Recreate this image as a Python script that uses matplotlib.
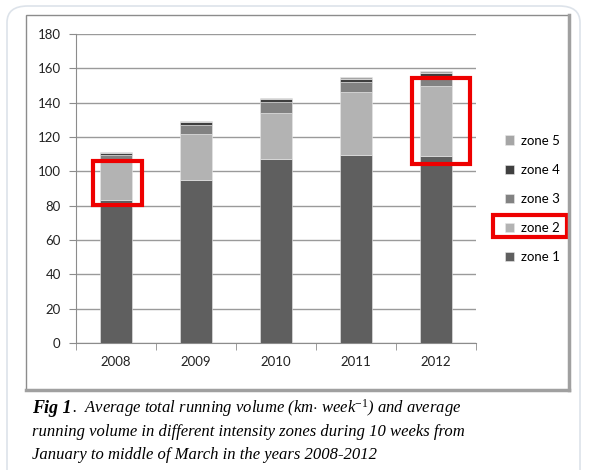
import matplotlib.pyplot as plt
from matplotlib.patches import Rectangle, FancyBboxPatch
import numpy as np

years = ['2008', '2009', '2010', '2011', '2012']
zone1 = [83.4, 95.0, 107.0, 109.5, 108.8]
zone2 = [23.6, 27.0, 27.0, 36.5, 41.0]
zone3 = [2.5, 5.0, 6.5, 6.0, 5.2]
zone4 = [1.0, 1.5, 1.5, 1.5, 2.0]
zone5 = [0.6, 1.0, 0.5, 1.2, 1.6]
zone_labels = ['zone 1', 'zone 2', 'zone 3', 'zone 4', 'zone 5']
zone_colors = ['#5f5f5f', '#b3b3b3', '#828282', '#3f3f3f', '#a6a6a6']
y_ticks = [0, 20, 40, 60, 80, 100, 120, 140, 160, 180]

caption_bold = 'Fig 1'
caption_rest = [
    '.  Average total running volume (km$\\cdot$ week$^{-1}$) and average',
    'running volume in different intensity zones during 10 weeks from',
    'January to middle of March in the years 2008-2012',
]

plt.rcParams['mathtext.fontset'] = 'custom'
plt.rcParams['mathtext.rm'] = 'Liberation Serif'
plt.rcParams['mathtext.it'] = 'Liberation Serif:italic'

W, H = 594, 470
fig = plt.figure(figsize=(W / 100, H / 100), dpi=100)
fig.patch.set_facecolor('white')

# outer rounded frame
fig.patches.append(FancyBboxPatch((7 / W, -0.1), 573 / W, 1.1 - 6 / H,
                                  boxstyle='round,pad=0,rounding_size=0.035',
                                  transform=fig.transFigure, fill=False,
                                  edgecolor='#dde3ea', lw=1.2))
# chart box with darker right/bottom edge
fig.patches.append(Rectangle((26 / W, 1 - 390 / H), 543 / W, 375 / H,
                             transform=fig.transFigure, fill=False,
                             edgecolor='#8c8c8c', lw=1.0))
fig.lines.append(plt.Line2D([569 / W, 569 / W], [1 - 390 / H, 1 - 15 / H],
                            transform=fig.transFigure, color='#a0a0a0', lw=2.5))
fig.lines.append(plt.Line2D([26 / W, 569 / W], [1 - 390 / H, 1 - 390 / H],
                            transform=fig.transFigure, color='#a0a0a0', lw=2.5))

ax = fig.add_axes([76 / W, 1 - 343 / H, 400 / W, 309 / H])
x = np.arange(len(years))
series = [zone1, zone2, zone3, zone4, zone5]
bottom = np.zeros(len(years))
bars = []
for vals, lab, col in zip(series, zone_labels, zone_colors):
    b = ax.bar(x, vals, 0.41, bottom=bottom, color=col, label=lab,
               edgecolor='#e8e8e8', linewidth=0.4, zorder=3)
    bars.append(b)
    bottom += np.array(vals)

ax.set_xlim(-0.5, len(years) - 0.5)
ax.set_ylim(0, 180)
ax.set_yticks(y_ticks)
ax.set_xticks(x)
ax.set_xticklabels(years)
ax.set_xticks(np.arange(-0.5, len(years)), minor=True)
ax.tick_params(axis='x', which='major', length=0, pad=9)
ax.tick_params(axis='x', which='minor', length=5, color='#8c8c8c', direction='out')
ax.tick_params(axis='y', length=5, color='#8c8c8c', pad=6)
for lab in ax.get_xticklabels() + ax.get_yticklabels():
    lab.set_fontfamily('Lato')
    lab.set_fontsize(9.5)
    lab.set_color('#222222')
ax.grid(axis='y', color='#9a9a9a', lw=1.0, zorder=0)
for s in ['top', 'right']:
    ax.spines[s].set_visible(False)
ax.spines['left'].set_color('#8c8c8c')
ax.spines['bottom'].set_color('#8c8c8c')

handles = bars[::-1]
leg = fig.legend(handles, [h.get_label() for h in handles],
                 loc='center left', bbox_to_anchor=(493 / W, 1 - 199 / H),
                 frameon=False, handlelength=0.7, handleheight=0.7,
                 handletextpad=0.5, labelspacing=1.3,
                 prop={'family': 'Lato', 'size': 9.5})

# red highlight boxes
ax.add_patch(Rectangle((-0.29, 80.5), 0.61, 25.5, fill=False,
                       edgecolor='#ee0000', lw=3, zorder=5, clip_on=False))
ax.add_patch(Rectangle((3.7, 104.5), 0.73, 50.0, fill=False,
                       edgecolor='#ee0000', lw=3, zorder=5, clip_on=False))
fig.patches.append(Rectangle((493 / W, 1 - 237 / H), 74 / W, 22 / H,
                             transform=fig.transFigure, fill=False,
                             edgecolor='#ee0000', lw=3))

# caption
cx = 32 / W
t = fig.text(cx, 1 - 413 / H, caption_bold, family='Liberation Serif',
             style='italic', weight='bold', size=13, va='baseline')
fig.canvas.draw()
bb = t.get_window_extent()
fig.text(bb.x1 / W, 1 - 413 / H, caption_rest[0], family='Liberation Serif',
         style='italic', size=12, va='baseline')
fig.text(cx, 1 - 436 / H, caption_rest[1], family='Liberation Serif',
         style='italic', size=12, va='baseline')
fig.text(cx, 1 - 459 / H, caption_rest[2], family='Liberation Serif',
         style='italic', size=12, va='baseline')

fig.savefig('out.png', dpi=100)
